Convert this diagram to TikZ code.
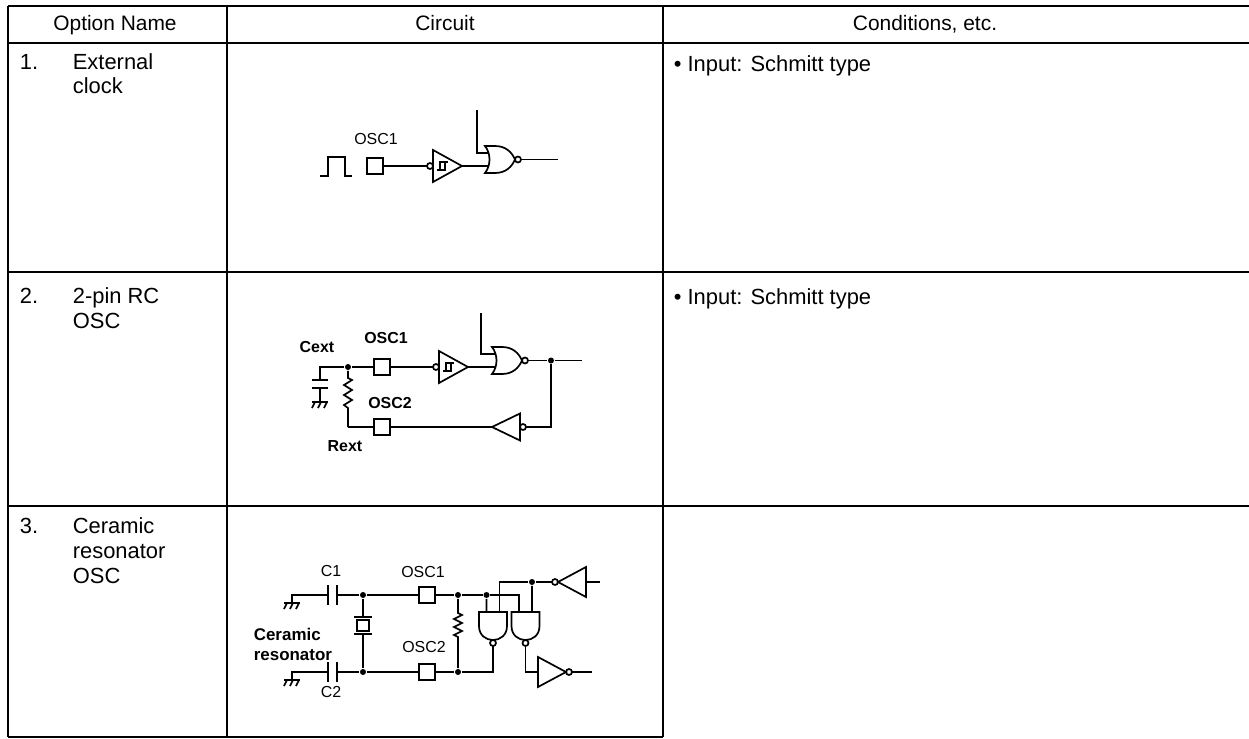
\documentclass[tikz,border=0pt]{standalone}
\usepackage{fontspec}
\setmainfont{Liberation Sans}
\begin{document}
\begin{tikzpicture}[x=1bp,y=-1bp,line width=1.7bp]
\tikzset{
  every node/.style={inner sep=0pt},
  grid/.style={line width=2bp},
  head/.style={font=\fontsize{21}{24}\selectfont,anchor=base},
  cell/.style={font=\fontsize{22}{24}\selectfont,anchor=base west},
  lbl/.style={font=\fontsize{16}{18}\selectfont},
  bold/.style={font=\fontsize{16}{18}\selectfont\bfseries},
  big/.style={font=\fontsize{17}{20}\selectfont\bfseries,anchor=base west},
  pin/.style={draw,minimum size=16bp,line width=1.8bp},
  dot/.style={circle,fill,minimum size=6bp},
  norg/.pic={
    \draw (0,-13.5) .. controls (6,-6) and (6,6) .. (0,13.5)
      -- (10,13.5) .. controls (21,13.5) and (27,7) .. (30,0)
      .. controls (27,-7) and (21,-13.5) .. (10,-13.5) -- cycle;
    \draw (33,0) circle[radius=3bp];
    \coordinate (-in1) at (3.5,-6.5);
    \coordinate (-in2) at (3.5,6.5);
    \coordinate (-out) at (36,0);
  },
  nandg/.pic={
    \draw (0,-14) -- (14,-14) .. controls (32.7,-14) and (32.7,14) .. (14,14) -- (0,14) -- cycle;
    \draw (31,0) circle[radius=3bp];
    \coordinate (-in1) at (0,-6.5);
    \coordinate (-in2) at (0,6.5);
    \coordinate (-out) at (34,0);
  },
  invo/.pic={
    \draw (0,-15) -- (28,0) -- (0,15) -- cycle;
    \draw (31,0) circle[radius=3bp];
    \coordinate (-in) at (0,0);
    \coordinate (-out) at (34,0);
  },
  invi/.pic={
    \draw (3,0) circle[radius=3bp];
    \draw (6,-13.5) -- (34,0) -- (6,13.5) -- cycle;
    \coordinate (-in) at (0,0);
    \coordinate (-out) at (34,0);
  },
  schm/.pic={
    \draw (3,0) circle[radius=3bp];
    \draw (6,-16) -- (35,0) -- (6,16) -- cycle;
    \draw[line width=1.3bp] (10,4) -- (18,4) -- (18,-4);
    \draw[line width=1.3bp] (13,4) -- (13,-4) -- (21,-4);
    \coordinate (-in) at (0,0);
    \coordinate (-out) at (35,0);
  },
  gnd/.pic={
    \draw (-8,0) -- (8,0);
    \draw (-5,0) -- (-8,6);
    \draw (1,0) -- (-2,6);
    \draw (7,0) -- (4,6);
  }
}
\useasboundingbox (0,0) rectangle (1249,739);
% table rules
    \draw[grid] (8,6) -- (1249,6);
    \draw[grid] (8,43) -- (1249,43);
    \draw[grid] (8,272) -- (1249,272);
    \draw[grid] (8,506) -- (1249,506);
    \draw[grid] (8,737) -- (663,737);
    \draw[grid] (8,6) -- (8,737);
    \draw[grid] (227,6) -- (227,737);
    \draw[grid] (663,6) -- (663,737);
% header
    \node[head] (hopt) at (115,31) {Option Name};
    \node[head] (hcir) at (445,31) {Circuit};
    \node[head] (hcon) at (925,31) {Conditions, etc.};
% option names
    \node[cell] (num1) at (19,70) {1.};
    \node[cell] (ext) at (72,70) {External};
    \node[cell] (clk) at (72,94) {clock};
    \node[cell] (num2) at (19,303) {2.};
    \node[cell] (rc) at (72,303) {2-pin RC};
    \node[cell] (rcosc) at (72,328) {OSC};
    \node[cell] (num3) at (19,533) {3.};
    \node[cell] (cer) at (72,533) {Ceramic};
    \node[cell] (res) at (72,558) {resonator};
    \node[cell] (cerosc) at (72,583) {OSC};
% conditions
    \node[cell] (cond1) at (673,72) {• Input: Schmitt type};
    \node[cell] (cond2) at (673,304) {• Input: Schmitt type};
% row 1: external clock
    \draw (320,176) -- (328,176) -- (328,157) -- (345,157) -- (345,176) -- (352,176);
    \node[pin] (osca) at (375,166) {};
    \node[lbl] (lbla) at (376,139) {OSC1};
    \pic (sta) at (427,166) {schm};
    \pic (nora) at (485,159.5) {norg};
    \coordinate (topa) at (477,110);
    \coordinate (qa) at (558,159.5);
    \draw (osca) -- (sta-in);
    \draw (sta-out) -- (nora-in2);
    \draw (topa) |- (nora-in1);
    \draw (nora-out) -- (qa);
% row 2: RC oscillator
    \node[pin] (osc1b) at (382,367) {};
    \node[pin] (osc2b) at (382,427) {};
    \node[dot] (jb1) at (348,367) {};
    \node[dot] (jb2) at (551,360.5) {};
    \node[bold] (lblb1) at (386,338) {OSC1};
    \node[bold] (lblb2) at (390,403) {OSC2};
    \node[bold] (cext) at (317,347) {Cext};
    \node[bold] (rext) at (345,446) {Rext};
    \pic (stb) at (433,367) {schm};
    \pic (norb) at (492,360.5) {norg};
    \pic[rotate=180] (invb) at (526,427) {invi};
    \coordinate (topb) at (481,313);
    \coordinate (qb) at (582,360.5);
    \coordinate (capb) at (320,367);
    \coordinate (gndb) at (320,402);
    \coordinate (rbot) at (348,427);
    \draw (jb1) -- (osc1b) -- (stb-in);
    \draw (stb-out) -- (norb-in2);
    \draw (topb) |- (norb-in1);
    \draw (norb-out) -- (jb2) -- (qb);
    \draw (jb2) |- (invb-in);
    \draw (invb-out) -- (osc2b) -- (rbot);
    \draw (rbot) -- (348,408) -- (344,405) -- (352,400) -- (344,395) -- (352,390)
      -- (344,385) -- (352,380) -- (348,378) -- (jb1);
    \draw (jb1) -- (capb) -- (320,380);
    \draw (312,380) -- (328,380);
    \draw (312,388) -- (328,388);
    \draw (320,388) -- (gndb);
    \pic at (gndb) {gnd};
% row 3: ceramic resonator
    \node[pin] (osc1c) at (427,595) {};
    \node[pin] (osc2c) at (427,672) {};
    \node[dot] (jc1) at (363,595) {};
    \node[dot] (jc2) at (458,595) {};
    \node[dot] (jc3) at (486.5,595) {};
    \node[dot] (jc4) at (532,582) {};
    \node[dot] (jc5) at (363,672) {};
    \node[dot] (jc6) at (458,672) {};
    \node[lbl] (lblc1) at (423,572) {OSC1};
    \node[lbl] (lblc2) at (424,647) {OSC2};
    \node[lbl] (lc1) at (331,571) {C1};
    \node[lbl] (lc2) at (331,692) {C2};
    \node[big] (lcer) at (253,640) {Ceramic};
    \node[big] (lres) at (253,660) {resonator};
    \pic[rotate=-90] (nda) at (493,612) {nandg};
    \pic[rotate=-90] (ndb) at (525.5,612) {nandg};
    \pic[rotate=180] (invc) at (586,582) {invo};
    \pic (invd) at (538,672) {invo};
    \coordinate (c1l) at (328,595);
    \coordinate (c1r) at (337,595);
    \coordinate (c2l) at (328,672);
    \coordinate (c2r) at (337,672);
    \coordinate (gndc) at (292,603);
    \coordinate (gndd) at (292,680);
    \coordinate (inc) at (600,582);
    \coordinate (qc) at (592,672);
%   capacitors
    \draw (328,585) -- (328,605);
    \draw (337,585) -- (337,605);
    \draw (328,662) -- (328,682);
    \draw (337,662) -- (337,682);
    \draw (c1l) -| (gndc);
    \draw (c2l) -| (gndd);
    \pic at (gndc) {gnd};
    \pic at (gndd) {gnd};
%   resonator
    \draw (jc1) -- (363,617);
    \draw (354,617) -- (372,617);
    \draw (357,620) rectangle (369,631);
    \draw (354,634) -- (372,634);
    \draw (363,634) -- (jc5);
%   feedback resistor
    \draw (jc2) -- (458,613) -- (462,615) -- (454,619) -- (462,623) -- (454,627)
      -- (462,631) -- (454,635) -- (458,637) -- (jc6);
%   wires
    \draw (c1r) -- (jc1) -- (osc1c) -- (jc2) -- (jc3) -| (ndb-in2);
    \draw (jc3) -- (nda-in2);
    \draw (inc) -- (invc-in);
    \draw (invc-out) -- (jc4) -| (nda-in1);
    \draw (jc4) -- (ndb-in1);
    \draw (c2r) -- (jc5) -- (osc2c) -- (jc6) -| (nda-out);
    \draw (ndb-out) |- (invd-in);
    \draw (invd-out) -- (qc);
\end{tikzpicture}
\end{document}
